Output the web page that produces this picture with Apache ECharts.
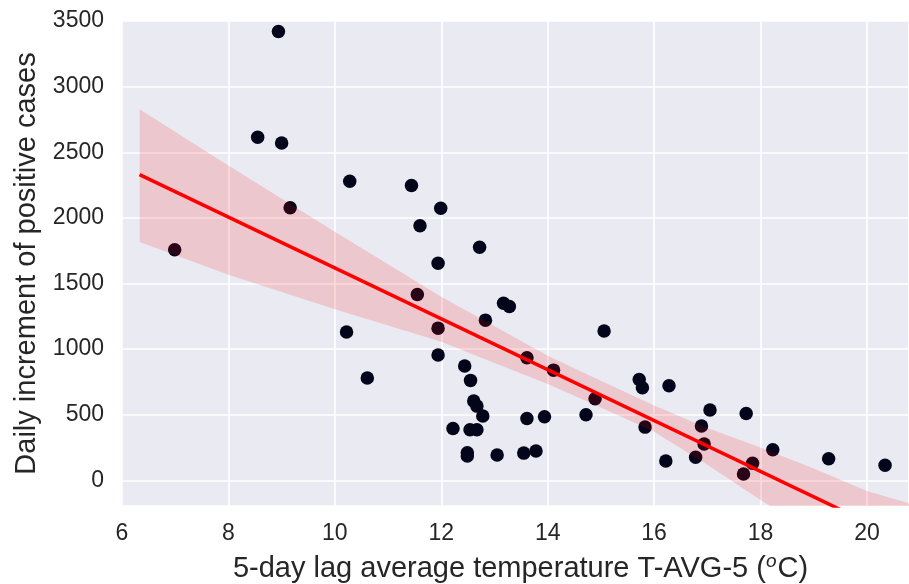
<!DOCTYPE html>
<html>
<head>
<meta charset="utf-8">
<script src="https://cdn.jsdelivr.net/npm/echarts@6/dist/echarts.min.js"></script>
<style>
  html, body { margin: 0; padding: 0; background: #ffffff; }
  #chart { width: 909px; height: 584px; }
</style>
</head>
<body>
<div id="chart"></div>
<script>
// Scatter data: temperature (x) and daily increment of positive cases (y)
var tempValues = [6.99, 8.55, 8.94, 9.00, 9.16, 10.22, 10.28, 10.61, 11.44, 11.55, 11.60, 11.94, 11.94, 11.94, 11.99,
  12.22, 12.44, 12.49, 12.49, 12.54, 12.55, 12.61, 12.67, 12.67, 12.72, 12.78, 12.83, 13.05, 13.17, 13.28,
  13.55, 13.61, 13.61, 13.78, 13.94, 14.11, 14.72, 14.89, 15.06, 15.72, 15.78, 15.83, 16.22, 16.28, 16.78,
  16.89, 16.94, 17.05, 17.68, 17.73, 17.85, 18.23, 19.28, 20.34];
var caseValues = [1757, 2615, 3420, 2570, 2078, 1130, 2279, 780, 2247, 1416, 1940, 1655, 1160, 955, 2074,
  396, 871, 211, 186, 386, 762, 604, 566, 386, 1776, 490, 1221, 193, 1350, 1325,
  208, 934, 472, 224, 485, 840, 500, 622, 1139, 769, 706, 406, 148, 721, 176,
  414, 277, 536, 49, 510, 130, 234, 165, 115];

// Regression line
var regX = [6.33, 20.79];
var regY = [2329, -472];

// Confidence band edges
var bandX = [6.33, 8, 10, 12, 13, 14, 15, 16, 17, 18, 19, 20, 20.79];
var bandUpper = [2827, 2400, 1895, 1400, 1175, 950, 760, 570, 400, 250, 90, -80, -174];
var bandLower = [1817, 1567, 1304, 1056, 895, 735, 555, 370, 120, -150, -400, -650, -800];

// Axis ticks
var xTicks = [6, 8, 10, 12, 14, 16, 18, 20];
var yTicks = [0, 500, 1000, 1500, 2000, 2500, 3000, 3500];

var chart = echarts.init(document.getElementById('chart'), null, { renderer: 'canvas' });
var FONT = '"Liberation Sans", Arial, "DejaVu Sans", sans-serif';
var TEXT = '#262626';

var option = {
  animation: false,
  backgroundColor: '#ffffff',
  grid: {
    left: 122, right: 0, top: 21, bottom: 78,
    containLabel: false,
    outerBoundsMode: 'none',
    show: true, backgroundColor: '#EAEAF2', borderWidth: 0
  },
  xAxis: {
    type: 'value',
    min: 6, max: 20.79, interval: 2,
    axisLine: { show: false }, axisTick: { show: false },
    splitLine: { show: true, lineStyle: { color: '#ffffff', width: 1.6 } },
    axisLabel: {
      fontSize: 23, color: TEXT, fontFamily: FONT, margin: 16,
      showMaxLabel: false,
      formatter: function (v) { return xTicks.indexOf(v) >= 0 ? String(v) : ''; }
    },
    name: '5-day lag average temperature T-AVG-5 ({sup|o}C)',
    nameLocation: 'middle', nameGap: 46,
    nameTextStyle: {
      fontSize: 29, color: TEXT, fontFamily: FONT, padding: [0, 0, 0, 10],
      rich: { sup: { fontSize: 19, fontStyle: 'italic', color: TEXT, fontFamily: FONT, verticalAlign: 'top', padding: [0, 1, 15, 0] } }
    }
  },
  yAxis: {
    type: 'value',
    min: -195, max: 3500, splitNumber: 7,
    axisLine: { show: false }, axisTick: { show: false },
    splitLine: { show: true, lineStyle: { color: '#ffffff', width: 1.6 } },
    axisLabel: {
      fontSize: 23, color: TEXT, fontFamily: FONT, margin: 18,
      showMinLabel: false,
      formatter: function (v) { return yTicks.indexOf(v) >= 0 ? String(v) : ''; }
    },
    name: 'Daily increment of positive cases',
    nameLocation: 'middle', nameRotate: 90, nameGap: 80,
    nameTextStyle: { fontSize: 29, color: TEXT, fontFamily: FONT }
  },
  series: [
    {
      type: 'scatter',
      z: 2,
      symbolSize: 13.5,
      itemStyle: { color: '#03051A', opacity: 1 },
      data: tempValues.map(function (x, i) { return [x, caseValues[i]]; })
    },
    {
      type: 'custom',
      z: 3,
      clip: true,
      silent: true,
      data: bandX.map(function (x, i) { return [x, bandUpper[i], bandLower[i]]; }),
      encode: { x: 0, y: [1, 2] },
      renderItem: function (params, api) {
        if (params.dataIndex !== 0) return null;
        var pts = [];
        for (var i = 0; i < bandX.length; i++) pts.push(api.coord([bandX[i], bandUpper[i]]));
        for (var j = bandX.length - 1; j >= 0; j--) pts.push(api.coord([bandX[j], bandLower[j]]));
        return {
          type: 'polygon',
          shape: { points: pts },
          style: { fill: 'rgba(255,0,0,0.15)' }
        };
      }
    },
    {
      type: 'line',
      z: 4,
      symbol: 'none',
      clip: true,
      lineStyle: { color: '#ff0000', width: 3.5 },
      data: regX.map(function (x, i) { return [x, regY[i]]; })
    }
  ]
};
chart.setOption(option);
</script>
</body>
</html>
